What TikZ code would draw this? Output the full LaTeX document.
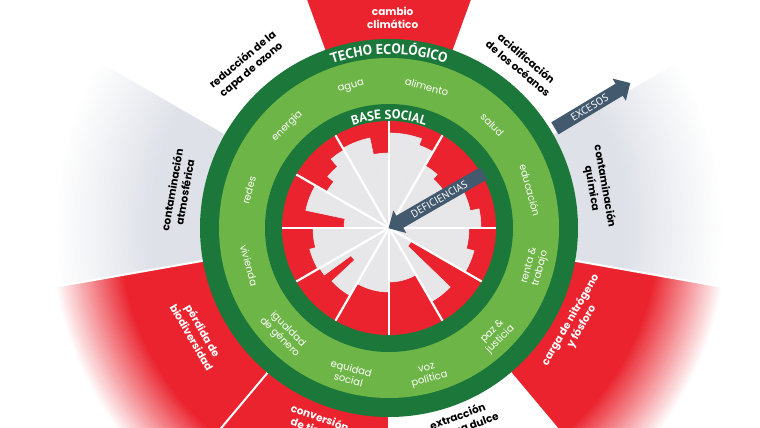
\documentclass[tikz,border=0pt]{standalone}
\usepackage{fontspec}
\setmainfont{Poppins}
\newfontfamily\capsfont{PT Sans}
\usepackage{tikz}
\usetikzlibrary{shapes.arrows,decorations.text}

\definecolor{ddred}{RGB}{234,35,46}
\definecolor{ddgreen}{RGB}{28,120,58}
\definecolor{ddlight}{RGB}{110,181,71}
\definecolor{ddgray}{RGB}{231,231,233}
\definecolor{ddfog}{RGB}{222,225,232}
\definecolor{ddslate}{RGB}{67,89,110}

\begin{document}
\begin{tikzpicture}[x=1pt, y=1pt,
	outer/.style={font=\bfseries\fontsize{10.5}{13}\selectfont, align=center},
	need/.style={text=white, font=\fontsize{10}{11.5}\selectfont, align=center},
	arrowbox/.style={single arrow, fill=ddslate, text=white, font=\capsfont\fontsize{10.5}{10.5}\selectfont, inner xsep=2pt, inner ysep=3pt, single arrow head extend=6pt, single arrow head indent=0pt},
	band/.style={decorate, decoration={text along path, text align=center, text color=white}},
	reached/.style={fill=ddgray, draw=ddgray, line width=0.6}
]
\useasboundingbox (-389,-200) rectangle (371,228);
\clip (-389,-200) rectangle (371,228);

% overshoot wedges, fading out
\foreach \a/\b in {70/110, 190/230, 230/270, -50/-10} {
  \foreach \r [evaluate=\r as \p using {int(max(0,min(100,(340-\r)*100/70)))}] in {352,350,...,188}
    \fill[ddred!\p!white] (0,0) -- (\a:\r) arc[start angle=\a, end angle=\b, radius=\r] -- cycle;
}
\foreach \a/\b in {150/190, -10/30} {
  \foreach \r [evaluate=\r as \p using {int(max(0,min(100,(335-\r)*100/95)))}] in {352,350,...,188}
    \fill[ddfog!\p!white] (0,0) -- (\a:\r) arc[start angle=\a, end angle=\b, radius=\r] -- cycle;
}
\foreach \t in {-50,-10,...,270}
  \draw[white, line width=2] (\t:189) -- (\t:420);

% the doughnut
\fill[ddgreen] (0,0) circle (189);
\fill[ddlight] (0,0) circle (170);
\fill[ddgreen] (0,0) circle (124);
\fill[ddred] (0,0) circle (107);

% social foundation reached
\foreach \a/\b/\r in {60/70/88, 70/90/95, 90/102/75, 102/120/92, 120/130/90, 130/140/80, 140/150/72,
    150/168/85, 168/180/45, 180/195/76, 195/210/82, 210/216/80, 216/223/47, 223/240/78,
    240/270/64, 270/300/54, 300/316/85, 316/330/26, 330/345/88, 345/360/80,
    0/12/92, 12/30/83, 30/48/66, 48/60/72}
  \filldraw[reached] (0,0) -- (\a:\r) arc[start angle=\a, end angle=\b, radius=\r] -- cycle;
\foreach \t in {0,30,...,330}
  \draw[white, line width=2.2] (0,0) -- (\t:107);

% ring titles
\path[band, decoration={text={|\capsfont\bfseries\fontsize{14}{14}\selectfont|TECHO ECOLÓGICO}}]
  (140:174) arc[start angle=140, end angle=40, radius=174];
\path[band, decoration={text={|\capsfont\bfseries\fontsize{13}{13}\selectfont|BASE SOCIAL}}]
  (140:109) arc[start angle=140, end angle=40, radius=109];

% social foundation labels
\foreach \ang/\rot/\rad/\txt/\nm in {105/15/146/agua/agua, 75/-15/146/alimento/alimento,
    45/-45/146/salud/salud, 15/-75/146/educación/educacion,
    -15/75/151/{renta \&\\trabajo}/renta, -45/45/152/{paz \&\\justicia}/paz,
    -75/15/152/{voz\\política}/voz, -105/-15/151/{equidad\\social}/equidad,
    -135/-45/149/{igualdad\\de género}/igualdad, -165/-75/145/vivienda/vivienda,
    165/75/145/redes/redes, 135/45/144/energía/energia}
  \node[need, rotate=\rot] (\nm) at (\ang:\rad) {\txt};

% ecological ceiling labels
\node[outer, text=white] (cambio) at (89:210) {cambio\\climático};
\node[outer, rotate=40] (ozono) at (131:216) {reducción de la\\capa de ozono};
\node[outer, rotate=-40] (oceanos) at (51:212) {acidificación\\de los océanos};
\node[outer, rotate=80] (aire) at (170:214) {contaminación\\atmosférica};
\node[outer, rotate=-80] (quimica) at (11:213) {contaminación\\química};
\node[outer, text=white, rotate=-60] (biodiv) at (209:219) {pérdida de\\biodiversidad};
\node[outer, text=white, rotate=60] (nitrogeno) at (-27:210) {carga de nitrógeno\\y fósforo};
\node[outer, text=white, rotate=-20] (tierras) at (-110:208) {conversión\\de tierras};
\node[outer, rotate=20] (aguadulce) at (-70:208) {extracción\\de agua dulce};

% arrows
\node[arrowbox, rotate=31, minimum height=88] (excesos) at (31:234) {EXCESOS};
\node[arrowbox, rotate=30, shape border rotate=180, minimum height=110] (deficiencias) at (30:58) {DEFICIENCIAS};
\end{tikzpicture}
\end{document}
